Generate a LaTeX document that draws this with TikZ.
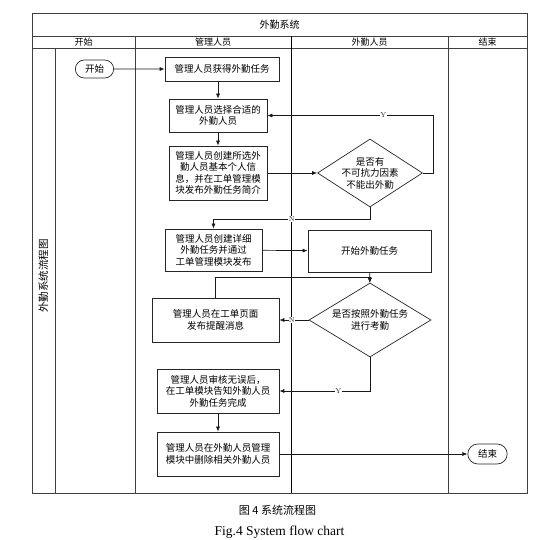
\documentclass[tikz,border=0pt]{standalone}
\usepackage{fontspec}
\newfontfamily\cjk{Noto Sans CJK SC}
\newfontfamily\capserif{Liberation Serif}
\usetikzlibrary{arrows.meta,shapes.geometric,shapes.misc}

\begin{document}
\begin{tikzpicture}[x=1pt,y=-1pt,>={Latex[length=5pt,width=4pt]},
  lane/.style={draw=black!75,line width=0.8pt},
  head/.style={font=\cjk\fontsize{9}{10}\selectfont},
  box/.style={draw=black!85,line width=0.7pt,align=center,inner sep=2pt,
    font=\cjk\fontsize{9.5}{11.5}\selectfont},
  decision/.style={diamond,draw=black!85,line width=0.7pt,align=center,inner sep=-1pt,
    font=\cjk\fontsize{9.5}{11.5}\selectfont},
  term/.style={rounded rectangle,draw=black!85,line width=0.7pt,
    font=\cjk\fontsize{9.5}{11.5}\selectfont},
  flow/.style={->,line width=0.7pt,black!90},
  lbl/.style={fill=white,inner sep=0.5pt,font=\fontsize{7}{8}\selectfont}]
\useasboundingbox (0,0) rectangle (555,540);

% swimlanes
\draw[lane] (32,13) rectangle (527,493);
\draw[lane] (32,36) -- (527,36);
\draw[lane] (32,48) -- (527,48);
\draw[lane] (55,48) -- (55,493);
\draw[lane] (135,36) -- (135,493);
\draw[lane,black] (291,36) -- (291,493);
\draw[lane] (448,36) -- (448,493);
\node[head,font=\cjk\fontsize{10}{11}\selectfont] (title) at (279.5,24.5) {外勤系统};
\node[head] (hstart) at (83.5,42) {开始};
\node[head] (hadmin) at (213,42) {管理人员};
\node[head] (hstaff) at (369.5,42) {外勤人员};
\node[head] (hend) at (487.5,42) {结束};
\node[head,rotate=90,font=\cjk\fontsize{10.5}{11}\selectfont] (side) at (43.5,276) {外勤系统流程图};

% nodes
\node[term,minimum width=45pt,minimum height=18pt] (start) at (94.5,69) {开始};
\node[box,minimum width=114pt,minimum height=24pt] (get) at (222,69) {管理人员获得外勤任务};
\node[box,minimum width=98pt,minimum height=33pt] (choose) at (218,115.5)
  {管理人员选择合适的\\外勤人员};
\node[box,minimum width=98pt,minimum height=54pt] (create) at (218,173)
  {管理人员创建所选外\\勤人员基本个人信\\息，并在工单管理模\\块发布外勤任务简介};
\node[decision,minimum width=105pt,minimum height=68pt,aspect=1.54] (dia1) at (370,173)
  {是否有\\不可抗力因素\\不能出外勤};
\node[box,minimum width=97pt,minimum height=42pt] (detail) at (213.5,250)
  {管理人员创建详细\\外勤任务并通过\\工单管理模块发布};
\node[box,minimum width=123pt,minimum height=42pt] (task) at (369.5,251) {开始外勤任务};
\node[decision,minimum width=122pt,minimum height=74pt,aspect=1.65] (dia2) at (370,320)
  {是否按照外勤任务\\进行考勤};
\node[box,minimum width=127pt,minimum height=44pt] (remind) at (215.5,320)
  {管理人员在工单页面\\发布提醒消息};
\node[box,minimum width=122pt,minimum height=44pt] (audit) at (218,391)
  {管理人员审核无误后，\\在工单模块告知外勤人员\\外勤任务完成};
\node[box,minimum width=122pt,minimum height=44pt] (delete) at (218,454)
  {管理人员在外勤人员管理\\模块中删除相关外勤人员};
\node[term,minimum width=46pt,minimum height=20pt] (end) at (487.5,454) {结束};

% connectors
\draw[flow] (start) -- (get);
\draw[flow] (choose.north |- get.south) -- (choose.north);
\draw[flow] (choose) -- (create);
\draw[flow] (create) -- (dia1);
\draw[flow] (dia1.east) -- ++(10,0) |- node[lbl,pos=0.65] {Y} (choose.east);
\draw[flow] (dia1.south) -- ++(0,12) -| node[lbl,pos=0.25] {N} (detail.north);
\draw[flow] (detail) -- (task);
\draw[flow] (task) -- (dia2);
\draw[flow] (remind.north) -- ++(0,-20) -| (dia2.north);
\draw[flow] (dia2.west) -- node[lbl,pos=0.57] {N} (remind.east);
\draw[flow] (dia2.south) |- node[lbl,pos=0.675] {Y} (audit.east);
\draw[flow] (audit) -- (delete);
\draw[flow] (delete) -- (end);

% caption
\node[font=\cjk\fontsize{11}{12}\selectfont] (cap) at (277.5,510) {图 4 系统流程图};
\node[font=\capserif\fontsize{13.5}{15}\selectfont] (capen) at (279.5,532) {Fig.4 System flow chart};
\end{tikzpicture}
\end{document}
